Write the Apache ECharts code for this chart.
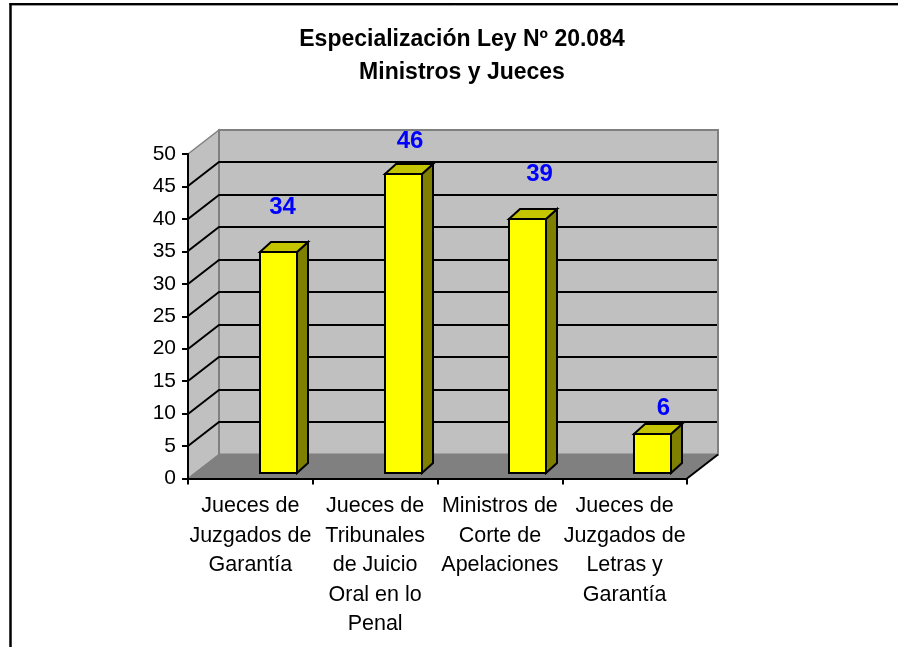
<!DOCTYPE html>
<html><head><meta charset="utf-8">
<style>html,body{margin:0;padding:0;background:#fff}#c{width:898px;height:647px}</style>
<script src="https://cdn.jsdelivr.net/npm/echarts@6/dist/echarts.min.js"></script>
</head><body><div id="c"></div>
<script>
const titleText = 'Especialización Ley Nº 20.084\nMinistros y Jueces';
const categories = ['Jueces de\nJuzgados de\nGarantía','Jueces de\nTribunales\nde Juicio\nOral en lo\nPenal','Ministros de\nCorte de\nApelaciones','Jueces de\nJuzgados de\nLetras y\nGarantía'];
const values = [34,46,39,6];
const yTicks = [5,10,15,20,25,30,35,40,45];
// hand-placed data-label nudges, relative to the top of each bar
const labelNudge = [[4,-45],[6.5,-33],[12,-45],[11,-25.5]];

const DX=31, DY=-24;          // depth of the chart box
const BX=28, BY=-6, BDX=11, BDY=-10; // bar placement within depth, bar depth

const chart = echarts.init(document.getElementById('c'),null,{renderer:'canvas'});
const poly=(pts,fill,stroke,w)=>({type:'polygon',shape:{points:pts},style:{fill:fill,stroke:stroke,lineWidth:w,lineJoin:'miter'}});
const line=(pts,stroke,w)=>({type:'polyline',shape:{points:pts},style:{fill:null,stroke:stroke,lineWidth:w}});

chart.setOption({
  animation:false,
  backgroundColor:'#fff',
  title:{text:titleText,left:462,top:23,padding:0,textAlign:'center',
    textStyle:{fontFamily:'Liberation Sans',fontWeight:'bold',fontSize:23,lineHeight:33,color:'#000'}},
  grid:{left:188,top:154,width:499,height:324.5},
  xAxis:{type:'category',data:categories,boundaryGap:true,
    axisLine:{lineStyle:{color:'#000',width:2}},
    axisTick:{show:true,length:6,lineStyle:{color:'#000',width:2}},
    axisLabel:{interval:0,margin:13,fontFamily:'Liberation Sans',fontSize:21.5,lineHeight:29.5,color:'#000',hideOverlap:false},
    z:5},
  yAxis:{type:'value',min:0,max:50,interval:5,
    axisLine:{show:true,lineStyle:{color:'#000',width:2}},
    axisTick:{show:true,length:6,lineStyle:{color:'#000',width:2}},
    axisLabel:{margin:12,fontFamily:'Liberation Sans',fontSize:21,color:'#000'},
    splitLine:{show:false},z:5},
  graphic:[
    {type:'line',shape:{x1:9.5,y1:4,x2:898,y2:4},style:{stroke:'#000',lineWidth:2},z:10},
    {type:'line',shape:{x1:11,y1:5.5,x2:898,y2:5.5},style:{stroke:'#999',lineWidth:1},z:9},
    {type:'line',shape:{x1:10.5,y1:3,x2:10.5,y2:647},style:{stroke:'#000',lineWidth:2.5},z:10}
  ],
  series:[
    {type:'custom',name:'walls',coordinateSystem:'cartesian2d',silent:true,z:1,
     data:[[0,0]],
     renderItem(params,api){
       const c=params.coordSys, l=c.x, r=c.x+c.width, t=c.y, b=c.y+c.height;
       return {type:'group',children:[
         poly([[l,t],[l+DX,t+DY],[l+DX,b+DY],[l,b]],'#c0c0c0','#808080',1.5),
         poly([[l+DX,t+DY],[r+DX,t+DY],[r+DX,b+DY],[l+DX,b+DY]],'#c0c0c0','#808080',2),
         poly([[l,b],[l+DX,b+DY],[r+DX,b+DY],[r,b]],'#808080','#808080',1),
         line([[r,b],[r+DX,b+DY]],'#000',2)
       ]};
     }},
    {type:'custom',name:'gridlines',coordinateSystem:'cartesian2d',silent:true,z:2,
     data:yTicks.map(v=>[0,v]),
     renderItem(params,api){
       const c=params.coordSys, l=c.x, r=c.x+c.width;
       const y=Math.round(api.coord([0,api.value(1)])[1]);
       return line([[l,y],[l+DX,y+DY],[r+DX-1,y+DY]],'#000',2);
     }},
    {type:'custom',name:'bars',coordinateSystem:'cartesian2d',silent:true,z:3,
     data:values.map((v,i)=>[i,v]),
     renderItem(params,api){
       const i=api.value(0);
       const top=api.coord([i,api.value(1)]), base=api.coord([i,0]);
       const w=Math.round(api.size([1,0])[0]*0.295);
       const x0=Math.round(top[0]+BX-w/2), x1=x0+w, yt=Math.round(top[1]+BY), yb=Math.round(base[1]+BY);
       const n=labelNudge[params.dataIndex];
       return {type:'group',children:[
         poly([[x1,yt],[x1+BDX,yt+BDY],[x1+BDX,yb+BDY],[x1,yb]],'#808000','#000',2),
         poly([[x0,yt],[x0+BDX,yt+BDY],[x1+BDX,yt+BDY],[x1,yt]],'#c4c400','#000',2),
         poly([[x0,yt],[x1,yt],[x1,yb],[x0,yb]],'#ffff00','#000',2),
         {type:'text',x:(x0+x1)/2+n[0],y:yt+n[1],style:{text:String(api.value(1)),fill:'#0000ff',
           font:'bold 24px "Liberation Sans"',textAlign:'center',textVerticalAlign:'middle'}}
       ]};
     }}
  ]
});
</script></body></html>
